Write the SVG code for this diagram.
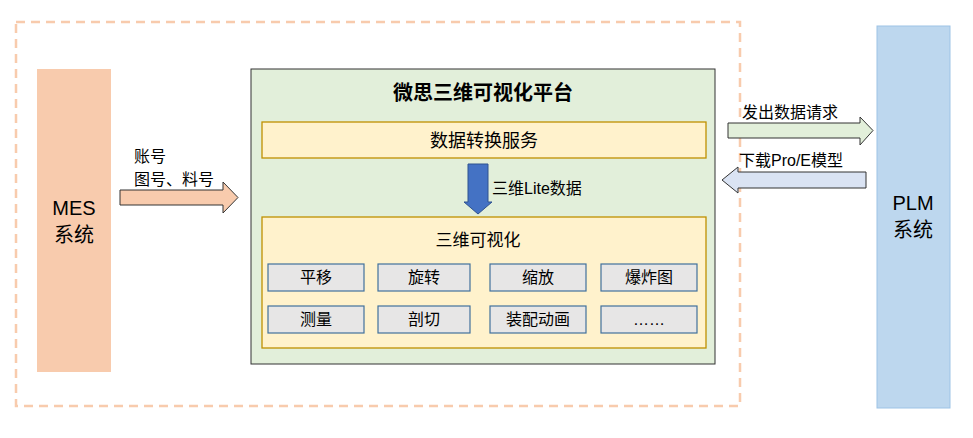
<svg xmlns="http://www.w3.org/2000/svg" width="973" height="438" viewBox="0 0 973 438">
<style>
text{font-family:"Liberation Sans","Noto Sans CJK SC",sans-serif;fill:#000}
.y{fill:#fff2cc;stroke:#bf9000;stroke-width:1.3}
.b rect{fill:#e7e6e6;stroke:#41719c;stroke-width:1.2}
.b text{font-size:16px;text-anchor:middle}
</style>
<rect width="973" height="438" fill="#fff"/>
<rect x="16" y="22" width="724" height="384" fill="none" stroke="#f8cbad" stroke-width="2.5" stroke-dasharray="9,6"/>
<g id="mes"><rect x="37" y="69" width="74" height="303" fill="#f8cbad"/>
<text x="74" y="215" font-size="20" text-anchor="middle">MES</text><text x="74" y="242" font-size="20" text-anchor="middle">系统</text></g>
<g id="plm"><rect x="877" y="26" width="73" height="382" fill="#bdd7ee" stroke="#9dc3e6"/>
<text x="913" y="210" font-size="20" text-anchor="middle">PLM</text><text x="913" y="237" font-size="20" text-anchor="middle">系统</text></g>
<g id="platform"><rect x="251" y="69" width="464" height="295" fill="#e2efda" stroke="#333" stroke-width="1"/>
<text x="483" y="100" font-size="20" font-weight="bold" text-anchor="middle">微思三维可视化平台</text></g>
<g id="convert"><rect class="y" x="262" y="122" width="444" height="36"/><text x="484" y="147" font-size="18" text-anchor="middle">数据转换服务</text></g>
<g id="vis"><rect class="y" x="262" y="217" width="444" height="131"/><text x="478" y="246" font-size="17" text-anchor="middle">三维可视化</text></g>
<g class="b">
<g id="b1"><rect x="268" y="264" width="96" height="27"/><text x="316" y="283">平移</text></g>
<g id="b2"><rect x="378" y="264" width="92" height="27"/><text x="424" y="283">旋转</text></g>
<g id="b3"><rect x="490" y="264" width="96" height="27"/><text x="538" y="283">缩放</text></g>
<g id="b4"><rect x="601" y="264" width="96" height="27"/><text x="649" y="283">爆炸图</text></g>
<g id="b5"><rect x="268" y="306" width="96" height="27"/><text x="316" y="325">测量</text></g>
<g id="b6"><rect x="378" y="306" width="92" height="27"/><text x="424" y="325">剖切</text></g>
<g id="b7"><rect x="490" y="306" width="96" height="27"/><text x="538" y="325">装配动画</text></g>
<g id="b8"><rect x="601" y="306" width="96" height="27"/><text x="649" y="325">……</text></g>
</g>
<g id="connectors">
<path d="M468,164H488V202H492L478,214L464,202H468Z" fill="#4472c4" stroke="#2f528f"/>
<text x="492" y="194" font-size="16">三维Lite数据</text>
<path d="M120,190H223V182L238,197.5L223,213V205H120Z" fill="#f8cbad" stroke="#333"/>
<text x="134" y="162" font-size="16">账号</text><text x="134" y="185" font-size="16">图号、料号</text>
<path d="M728,123H860V117L873,130.5L860,145V138H728Z" fill="#e2efda" stroke="#333"/>
<text x="742" y="118" font-size="16">发出数据请求</text>
<path d="M866,172H738V167L722,180L738,193V188H866Z" fill="#dae3f3" stroke="#333"/>
<text x="739" y="166" font-size="16">下载Pro/E模型</text>
</g>
</svg>
